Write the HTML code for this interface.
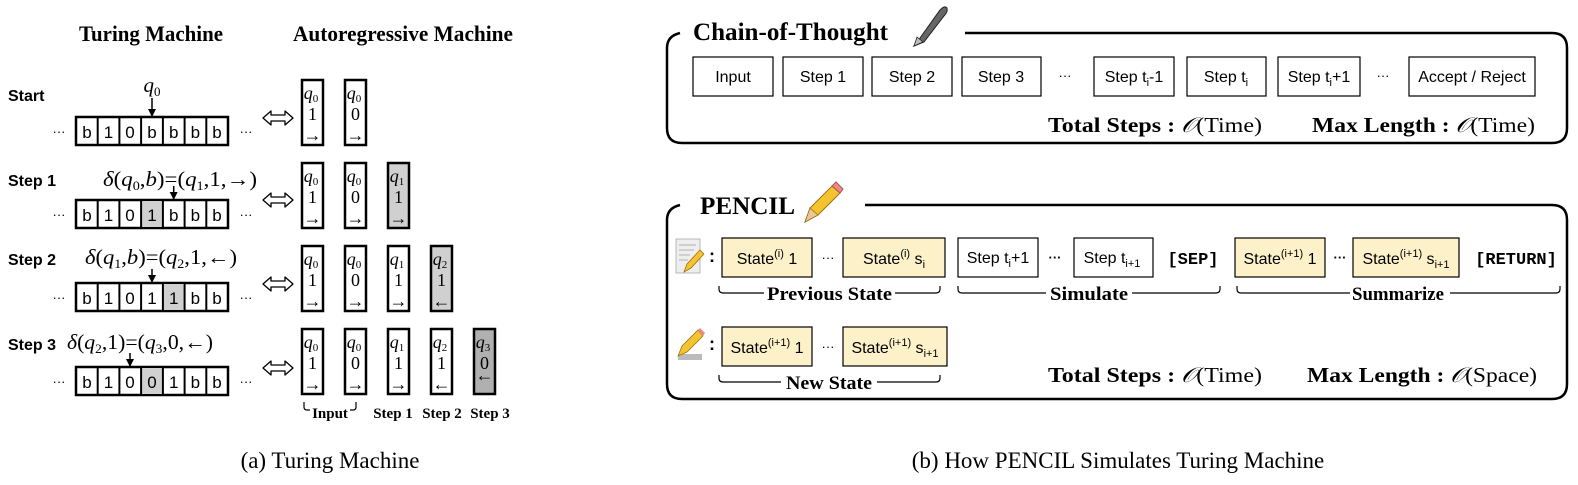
<!DOCTYPE html>
<html><head><meta charset="utf-8"><style>
html,body{margin:0;padding:0;background:#fff;}
svg{display:block;}
.sans{font-family:"Liberation Sans",sans-serif;}
.serif{font-family:"Liberation Serif",serif;}
.mono{font-family:"Liberation Mono",monospace;font-weight:bold;}
</style></head><body>
<svg width="1578" height="485" viewBox="0 0 1578 485" xmlns="http://www.w3.org/2000/svg">
<defs>
<marker id="ah" markerWidth="8" markerHeight="8" refX="8" refY="4" orient="auto" markerUnits="userSpaceOnUse"><path d="M0,0 L8,4 L0,8 z" fill="#000"/></marker>
<g id="dar"><path d="M0,0 L8,-7 L8,-3 L22,-3 L22,-7 L30,0 L22,7 L22,3 L8,3 L8,7 Z" fill="#fff" stroke="#000" stroke-width="1.3" stroke-linejoin="round"/></g>
</defs>

<text x="79" y="41" class="serif" font-weight="bold" font-size="22" textLength="144" lengthAdjust="spacingAndGlyphs">Turing Machine</text>
<text x="293" y="41" class="serif" font-weight="bold" font-size="22" textLength="220" lengthAdjust="spacingAndGlyphs">Autoregressive Machine</text>

<g class="sans" font-weight="bold" font-size="16">
<text x="8" y="101">Start</text>
<text x="8" y="186">Step 1</text>
<text x="8" y="265">Step 2</text>
<text x="8" y="350">Step 3</text>
</g>

<g class="sans" font-size="17" text-anchor="middle">
<g transform="translate(0,117)">
<rect x="76" y="0" width="152" height="28" fill="#fff" stroke="#000" stroke-width="2.5"/>
<g stroke="#000" stroke-width="2"><line x1="97.7" y1="0" x2="97.7" y2="28"/><line x1="119.4" y1="0" x2="119.4" y2="28"/><line x1="141.1" y1="0" x2="141.1" y2="28"/><line x1="162.9" y1="0" x2="162.9" y2="28"/><line x1="184.6" y1="0" x2="184.6" y2="28"/><line x1="206.3" y1="0" x2="206.3" y2="28"/></g>
<text x="87" y="21">b</text><text x="108.5" y="21">1</text><text x="130" y="21">0</text><text x="152" y="21">b</text><text x="173.7" y="21">b</text><text x="195.4" y="21">b</text><text x="217" y="21">b</text>
<text x="59" y="19" font-size="13">···</text><text x="246" y="19" font-size="13">···</text>
</g>
<g transform="translate(0,200)">
<rect x="76" y="0" width="152" height="28" fill="#fff" stroke="#000" stroke-width="2.5"/>
<rect x="141.1" y="1" width="21.7" height="26" fill="#d0d0d0"/>
<g stroke="#000" stroke-width="2"><line x1="97.7" y1="0" x2="97.7" y2="28"/><line x1="119.4" y1="0" x2="119.4" y2="28"/><line x1="141.1" y1="0" x2="141.1" y2="28"/><line x1="162.9" y1="0" x2="162.9" y2="28"/><line x1="184.6" y1="0" x2="184.6" y2="28"/><line x1="206.3" y1="0" x2="206.3" y2="28"/></g>
<text x="87" y="21">b</text><text x="108.5" y="21">1</text><text x="130" y="21">0</text><text x="152" y="21">1</text><text x="173.7" y="21">b</text><text x="195.4" y="21">b</text><text x="217" y="21">b</text>
<text x="59" y="19" font-size="13">···</text><text x="246" y="19" font-size="13">···</text>
</g>
<g transform="translate(0,283)">
<rect x="76" y="0" width="152" height="28" fill="#fff" stroke="#000" stroke-width="2.5"/>
<rect x="162.9" y="1" width="21.7" height="26" fill="#d0d0d0"/>
<g stroke="#000" stroke-width="2"><line x1="97.7" y1="0" x2="97.7" y2="28"/><line x1="119.4" y1="0" x2="119.4" y2="28"/><line x1="141.1" y1="0" x2="141.1" y2="28"/><line x1="162.9" y1="0" x2="162.9" y2="28"/><line x1="184.6" y1="0" x2="184.6" y2="28"/><line x1="206.3" y1="0" x2="206.3" y2="28"/></g>
<text x="87" y="21">b</text><text x="108.5" y="21">1</text><text x="130" y="21">0</text><text x="152" y="21">1</text><text x="173.7" y="21">1</text><text x="195.4" y="21">b</text><text x="217" y="21">b</text>
<text x="59" y="19" font-size="13">···</text><text x="246" y="19" font-size="13">···</text>
</g>
<g transform="translate(0,367)">
<rect x="76" y="0" width="152" height="28" fill="#fff" stroke="#000" stroke-width="2.5"/>
<rect x="141.1" y="1" width="21.7" height="26" fill="#d0d0d0"/>
<g stroke="#000" stroke-width="2"><line x1="97.7" y1="0" x2="97.7" y2="28"/><line x1="119.4" y1="0" x2="119.4" y2="28"/><line x1="141.1" y1="0" x2="141.1" y2="28"/><line x1="162.9" y1="0" x2="162.9" y2="28"/><line x1="184.6" y1="0" x2="184.6" y2="28"/><line x1="206.3" y1="0" x2="206.3" y2="28"/></g>
<text x="87" y="21">b</text><text x="108.5" y="21">1</text><text x="130" y="21">0</text><text x="152" y="21">0</text><text x="173.7" y="21">1</text><text x="195.4" y="21">b</text><text x="217" y="21">b</text>
<text x="59" y="19" font-size="13">···</text><text x="246" y="19" font-size="13">···</text>
</g>
</g>

<g stroke="#000" stroke-width="1.5">
<line x1="152" y1="98" x2="152" y2="117" marker-end="url(#ah)"/>
<line x1="173.7" y1="186" x2="173.7" y2="200" marker-end="url(#ah)"/>
<line x1="152" y1="269" x2="152" y2="283" marker-end="url(#ah)"/>
<line x1="130" y1="353" x2="130" y2="367" marker-end="url(#ah)"/>
</g>

<g class="serif" font-size="21">
<text x="152" y="92" text-anchor="middle" font-style="italic">q<tspan font-size="13" dy="4" font-style="normal">0</tspan></text>
<text x="103" y="186" textLength="154" lengthAdjust="spacingAndGlyphs"><tspan font-style="italic">δ</tspan>(<tspan font-style="italic">q</tspan><tspan font-size="13" dy="4">0</tspan><tspan dy="-4">,</tspan><tspan font-style="italic">b</tspan>)=(<tspan font-style="italic">q</tspan><tspan font-size="13" dy="4">1</tspan><tspan dy="-4">,1,→)</tspan></text>
<text x="85" y="264" textLength="152" lengthAdjust="spacingAndGlyphs"><tspan font-style="italic">δ</tspan>(<tspan font-style="italic">q</tspan><tspan font-size="13" dy="4">1</tspan><tspan dy="-4">,</tspan><tspan font-style="italic">b</tspan>)=(<tspan font-style="italic">q</tspan><tspan font-size="13" dy="4">2</tspan><tspan dy="-4">,1,←)</tspan></text>
<text x="67" y="349" textLength="146" lengthAdjust="spacingAndGlyphs"><tspan font-style="italic">δ</tspan>(<tspan font-style="italic">q</tspan><tspan font-size="13" dy="4">2</tspan><tspan dy="-4">,1)=(</tspan><tspan font-style="italic">q</tspan><tspan font-size="13" dy="4">3</tspan><tspan dy="-4">,0,←)</tspan></text>
</g>

<use href="#dar" x="263" y="118"/>
<use href="#dar" x="263" y="200"/>
<use href="#dar" x="263" y="284"/>
<use href="#dar" x="263" y="368"/>

<g class="serif" font-size="18" text-anchor="middle">
<g transform="translate(0,80)">
<rect x="302" y="0" width="21" height="65" fill="#fff" stroke="#000" stroke-width="2.5"/><text x="311" y="19" font-style="italic">q<tspan font-size="11" dy="3" font-style="normal">0</tspan></text><text x="312.5" y="40">1</text><text x="312.5" y="61">→</text>
<rect x="345" y="0" width="21" height="65" fill="#fff" stroke="#000" stroke-width="2.5"/><text x="354" y="19" font-style="italic">q<tspan font-size="11" dy="3" font-style="normal">0</tspan></text><text x="355.5" y="40">0</text><text x="355.5" y="61">→</text>
</g>
<g transform="translate(0,163)">
<rect x="302" y="0" width="21" height="65" fill="#fff" stroke="#000" stroke-width="2.5"/><text x="311" y="19" font-style="italic">q<tspan font-size="11" dy="3" font-style="normal">0</tspan></text><text x="312.5" y="40">1</text><text x="312.5" y="61">→</text>
<rect x="345" y="0" width="21" height="65" fill="#fff" stroke="#000" stroke-width="2.5"/><text x="354" y="19" font-style="italic">q<tspan font-size="11" dy="3" font-style="normal">0</tspan></text><text x="355.5" y="40">0</text><text x="355.5" y="61">→</text>
<rect x="388" y="0" width="21" height="65" fill="#d0d0d0" stroke="#000" stroke-width="2.5"/><text x="397" y="19" font-style="italic">q<tspan font-size="11" dy="3" font-style="normal">1</tspan></text><text x="398.5" y="40">1</text><text x="398.5" y="61">→</text>
</g>
<g transform="translate(0,246)">
<rect x="302" y="0" width="21" height="65" fill="#fff" stroke="#000" stroke-width="2.5"/><text x="311" y="19" font-style="italic">q<tspan font-size="11" dy="3" font-style="normal">0</tspan></text><text x="312.5" y="40">1</text><text x="312.5" y="61">→</text>
<rect x="345" y="0" width="21" height="65" fill="#fff" stroke="#000" stroke-width="2.5"/><text x="354" y="19" font-style="italic">q<tspan font-size="11" dy="3" font-style="normal">0</tspan></text><text x="355.5" y="40">0</text><text x="355.5" y="61">→</text>
<rect x="388" y="0" width="21" height="65" fill="#fff" stroke="#000" stroke-width="2.5"/><text x="397" y="19" font-style="italic">q<tspan font-size="11" dy="3" font-style="normal">1</tspan></text><text x="398.5" y="40">1</text><text x="398.5" y="61">→</text>
<rect x="431" y="0" width="21" height="65" fill="#d0d0d0" stroke="#000" stroke-width="2.5"/><text x="440" y="19" font-style="italic">q<tspan font-size="11" dy="3" font-style="normal">2</tspan></text><text x="441.5" y="40">1</text><text x="441.5" y="61">←</text>
</g>
<g transform="translate(0,329)">
<rect x="302" y="0" width="21" height="65" fill="#fff" stroke="#000" stroke-width="2.5"/><text x="311" y="19" font-style="italic">q<tspan font-size="11" dy="3" font-style="normal">0</tspan></text><text x="312.5" y="40">1</text><text x="312.5" y="61">→</text>
<rect x="345" y="0" width="21" height="65" fill="#fff" stroke="#000" stroke-width="2.5"/><text x="354" y="19" font-style="italic">q<tspan font-size="11" dy="3" font-style="normal">0</tspan></text><text x="355.5" y="40">0</text><text x="355.5" y="61">→</text>
<rect x="388" y="0" width="21" height="65" fill="#fff" stroke="#000" stroke-width="2.5"/><text x="397" y="19" font-style="italic">q<tspan font-size="11" dy="3" font-style="normal">1</tspan></text><text x="398.5" y="40">1</text><text x="398.5" y="61">→</text>
<rect x="431" y="0" width="21" height="65" fill="#fff" stroke="#000" stroke-width="2.5"/><text x="440" y="19" font-style="italic">q<tspan font-size="11" dy="3" font-style="normal">2</tspan></text><text x="441.5" y="40">1</text><text x="441.5" y="61">←</text>
<rect x="474" y="0" width="21" height="65" fill="#b0b0b0" stroke="#000" stroke-width="2.5"/><text x="483" y="19" font-style="italic">q<tspan font-size="11" dy="3" font-style="normal">3</tspan></text><text x="484.5" y="40">0</text><text x="484.5" y="52">←</text>
</g>
</g>

<path d="M304,402 v5 q0,3 3,3 h3" fill="none" stroke="#000" stroke-width="1.2"/>
<path d="M356,402 v5 q0,3 -3,3 h-3" fill="none" stroke="#000" stroke-width="1.2"/>
<g class="serif" font-weight="bold" font-size="15" text-anchor="middle">
<text x="330" y="418">Input</text>
<text x="393" y="418">Step 1</text>
<text x="442" y="418">Step 2</text>
<text x="490" y="418">Step 3</text>
</g>

<text x="330" y="468" class="serif" font-size="23" text-anchor="middle">(a) Turing Machine</text>
<text x="1118" y="468" class="serif" font-size="23" text-anchor="middle">(b) How PENCIL Simulates Turing Machine</text>

<path d="M965,33 H1552 Q1567,33 1567,48 V128 Q1567,143 1552,143 H682 Q667,143 667,128 V48 Q667,36 680,33" fill="none" stroke="#000" stroke-width="2.5"/>
<text x="693" y="40" class="serif" font-weight="bold" font-size="25" textLength="195" lengthAdjust="spacingAndGlyphs">Chain-of-Thought</text>
<g>
<path d="M914,46 L920,38 L940,10 Q945,5 947,8 Q948,12 944,16 L924,42 Z" fill="#666" stroke="#222" stroke-width="1"/>
<path d="M914,46 L917,37 L923,42 Z" fill="#bbb" stroke="#222" stroke-width="0.8"/>
</g>
<g class="sans" font-size="16" text-anchor="middle">
<rect x="693" y="57" width="80" height="39" fill="#fff" stroke="#000" stroke-width="1.2"/><text x="733" y="82">Input</text>
<rect x="783" y="57" width="80" height="39" fill="#fff" stroke="#000" stroke-width="1.2"/><text x="823" y="82">Step 1</text>
<rect x="872" y="57" width="80" height="39" fill="#fff" stroke="#000" stroke-width="1.2"/><text x="912" y="82">Step 2</text>
<rect x="962" y="57" width="79" height="39" fill="#fff" stroke="#000" stroke-width="1.2"/><text x="1001" y="82">Step 3</text>
<text x="1065" y="80" font-size="13">···</text>
<rect x="1094" y="57" width="80" height="39" fill="#fff" stroke="#000" stroke-width="1.2"/><text x="1134" y="82">Step t<tspan font-size="11" dy="4">i</tspan><tspan dy="-4">-1</tspan></text>
<rect x="1187" y="57" width="79" height="39" fill="#fff" stroke="#000" stroke-width="1.2"/><text x="1226" y="82">Step t<tspan font-size="11" dy="4">i</tspan></text>
<rect x="1278" y="57" width="82" height="39" fill="#fff" stroke="#000" stroke-width="1.2"/><text x="1319" y="82">Step t<tspan font-size="11" dy="4">i</tspan><tspan dy="-4">+1</tspan></text>
<text x="1383" y="80" font-size="13">···</text>
<rect x="1409" y="57" width="126" height="39" fill="#fff" stroke="#000" stroke-width="1.2"/><text x="1472" y="82">Accept / Reject</text>
</g>
<g class="serif" font-size="21">
<text x="1048" y="132" textLength="214" lengthAdjust="spacingAndGlyphs"><tspan font-weight="bold">Total Steps : </tspan><tspan font-style="italic">𝒪</tspan>(Time)</text>
<text x="1312" y="132" textLength="223" lengthAdjust="spacingAndGlyphs"><tspan font-weight="bold">Max Length : </tspan><tspan font-style="italic">𝒪</tspan>(Time)</text>
</g>

<path d="M865,205 H1552 Q1567,205 1567,220 V384 Q1567,399 1552,399 H682 Q667,399 667,384 V220 Q667,208 680,205" fill="none" stroke="#000" stroke-width="2.5"/>
<text x="700" y="214" class="serif" font-weight="bold" font-size="25" textLength="95" lengthAdjust="spacingAndGlyphs">PENCIL</text>
<g>
<polygon points="805,222 810,208 832,186 840,193 818,215" fill="#f4c430" stroke="#a07010" stroke-width="1"/>
<polygon points="832,186 836,182 843,189 840,193" fill="#e88" stroke="#a55" stroke-width="1"/>
<polygon points="805,222 810,208 818,215" fill="#e8c89a" stroke="#a07010" stroke-width="0.8"/>
</g>
<rect x="676" y="239" width="24" height="34" fill="#eee" stroke="#aaa" stroke-width="0.8"/>
<g stroke="#999" stroke-width="0.7"><line x1="679" y1="245" x2="696" y2="245"/><line x1="679" y1="250" x2="694" y2="250"/><line x1="679" y1="255" x2="690" y2="255"/><line x1="679" y1="260" x2="688" y2="260"/></g>
<polygon points="684,272 687,264 700,250 704,254 691,268" fill="#f4c430" stroke="#a07010" stroke-width="0.8"/>
<rect x="678" y="354" width="24" height="6" fill="#bbb"/>
<polygon points="678,356 682,346 698,330 703,336 687,352" fill="#f4c430" stroke="#a07010" stroke-width="0.8"/>
<polygon points="698,330 700,328 705,333 703,336" fill="#e88"/>

<g class="sans" font-weight="bold" font-size="18"><text x="709" y="262">:</text><text x="709" y="350">:</text></g>

<g class="sans" font-size="16" text-anchor="middle">
<rect x="722" y="238" width="90" height="39" fill="#fdf1c9" stroke="#000" stroke-width="1.2"/><text x="767" y="264">State<tspan font-size="11" dy="-7">(i)</tspan><tspan dy="7"> 1</tspan></text>
<text x="828" y="262" font-size="13">···</text>
<rect x="843" y="238" width="102" height="39" fill="#fdf1c9" stroke="#000" stroke-width="1.2"/><text x="894" y="264">State<tspan font-size="11" dy="-7">(i)</tspan><tspan dy="7"> s</tspan><tspan font-size="11" dy="4">i</tspan></text>
<rect x="958" y="238" width="80" height="39" fill="#fff" stroke="#000" stroke-width="1.2"/><text x="998" y="263">Step t<tspan font-size="11" dy="4">i</tspan><tspan dy="-4">+1</tspan></text>
<text x="1055" y="262" font-size="13" font-weight="bold">···</text>
<rect x="1074" y="238" width="79" height="39" fill="#fff" stroke="#000" stroke-width="1.2"/><text x="1112" y="263">Step t<tspan font-size="11" dy="4">i+1</tspan></text>
<text x="1193" y="264" class="mono" font-size="17">[SEP]</text>
<rect x="1235" y="238" width="90" height="39" fill="#fdf1c9" stroke="#000" stroke-width="1.2"/><text x="1280" y="264">State<tspan font-size="11" dy="-7">(i+1)</tspan><tspan dy="7"> 1</tspan></text>
<text x="1340" y="262" font-size="13" font-weight="bold">···</text>
<rect x="1353" y="238" width="106" height="39" fill="#fdf1c9" stroke="#000" stroke-width="1.2"/><text x="1406" y="264">State<tspan font-size="11" dy="-7">(i+1)</tspan><tspan dy="7"> s</tspan><tspan font-size="11" dy="4">i+1</tspan></text>
<text x="1516" y="264" class="mono" font-size="17">[RETURN]</text>

<rect x="722" y="327" width="90" height="39" fill="#fdf1c9" stroke="#000" stroke-width="1.2"/><text x="767" y="353">State<tspan font-size="11" dy="-7">(i+1)</tspan><tspan dy="7"> 1</tspan></text>
<text x="828" y="351" font-size="13">···</text>
<rect x="843" y="327" width="104" height="39" fill="#fdf1c9" stroke="#000" stroke-width="1.2"/><text x="895" y="353">State<tspan font-size="11" dy="-7">(i+1)</tspan><tspan dy="7"> s</tspan><tspan font-size="11" dy="4">i+1</tspan></text>
</g>

<g fill="none" stroke="#000" stroke-width="1.2">
<path d="M719,286 v3 q0,4 4,4 h41 M895,293 h41 q4,0 4,-4 v-3"/>
<path d="M958,286 v3 q0,4 4,4 h84 M1132,293 h84 q4,0 4,-4 v-3"/>
<path d="M1237,286 v3 q0,4 4,4 h109 M1450,293 h106 q4,0 4,-4 v-3"/>
<path d="M719,375 v3 q0,4 4,4 h58 M877,382 h59 q4,0 4,-4 v-3"/>
</g>
<g class="serif" font-weight="bold" font-size="19" text-anchor="middle">
<text x="829.5" y="300" textLength="125" lengthAdjust="spacingAndGlyphs">Previous State</text>
<text x="1089" y="300" textLength="78" lengthAdjust="spacingAndGlyphs">Simulate</text>
<text x="1398" y="300" textLength="92" lengthAdjust="spacingAndGlyphs">Summarize</text>
<text x="829" y="389" textLength="86" lengthAdjust="spacingAndGlyphs">New State</text>
</g>
<g class="serif" font-size="21">
<text x="1048" y="382" textLength="214" lengthAdjust="spacingAndGlyphs"><tspan font-weight="bold">Total Steps : </tspan><tspan font-style="italic">𝒪</tspan>(Time)</text>
<text x="1307" y="382" textLength="230" lengthAdjust="spacingAndGlyphs"><tspan font-weight="bold">Max Length : </tspan><tspan font-style="italic">𝒪</tspan>(Space)</text>
</g>
</svg>
</body></html>
